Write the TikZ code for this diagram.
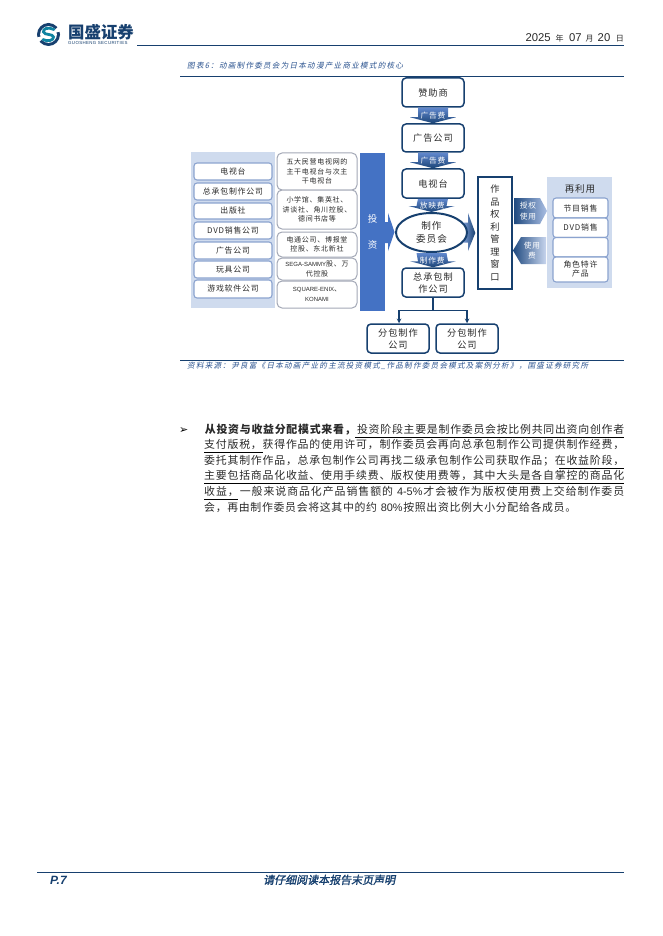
\documentclass[tikz,border=0pt]{standalone}
\usepackage{fontspec}
\usetikzlibrary{calc,shapes.geometric}
\setmainfont{Noto Sans CJK SC}
\newfontfamily\cjkw[LetterSpace=10]{Noto Sans CJK SC}
\newfontfamily\cjki[FakeSlant=0.2,LetterSpace=16]{Noto Sans CJK SC}
\newfontfamily\cjkbi[FakeSlant=0.2,FakeBold=1.5]{Noto Sans CJK SC}
\newfontfamily\lat{Liberation Sans}
\newfontfamily\latw[LetterSpace=8]{Liberation Sans}
\newfontfamily\symb{DejaVu Sans}
\definecolor{navy}{HTML}{17406F}
\definecolor{capblue}{HTML}{2C5490}
\definecolor{paleblue}{HTML}{CFDBEE}
\definecolor{edgeblue}{HTML}{8BA3CF}
\definecolor{edgegray}{HTML}{A3A8B6}
\definecolor{barblue}{HTML}{4472C4}
\definecolor{txt}{HTML}{2A2A2A}
\tikzset{
  x=1pt,y=-1pt,
  mainbox/.style={draw=navy,line width=1.5pt,fill=white,rounded corners=4pt,minimum width=61pt,inner sep=0pt,align=center,font=\fontsize{9.2}{12}\cjkw,text=txt},
  leftbox/.style={draw=edgeblue,line width=1.1pt,fill=white,rounded corners=3pt,inner sep=0pt,align=center,font=\fontsize{7.9}{9}\cjkw,text=txt},
  midbox/.style={draw=edgegray,line width=1pt,fill=white,rounded corners=5pt,inner sep=0pt,align=center,font=\fontsize{7}{9.2}\cjkw,text=txt},
  panel/.style={fill=paleblue,draw=none,inner sep=0pt},
  arrowlabel/.style={inner sep=0pt,align=center,text=white,font=\fontsize{7.7}{10.5}\cjkw},
  bodyl/.style={anchor=base west,inner sep=0pt,font=\fontsize{10.9}{12}\selectfont,text=txt},
  plain/.style={inner sep=0pt,anchor=base west},
  rule/.style={draw=navy,line width=0.9pt},
  uline/.style={draw=black,line width=0.7pt},
  conn/.style={draw=navy,line width=1.1pt},
}
\newcommand{\place}[7]{% style, name, x1,y1,x2,y2, text
  \node[#1,minimum width=#5pt-#3pt,minimum height=#6pt-#4pt] (#2) at ({(#3+#5)/2},{(#4+#6)/2}) {#7};}
\newcommand{\blockdown}[3]{% from, to, label
  \shade[top color=barblue!85,bottom color=navy!90!barblue]
    ($(#1.south)+(-15,0)$) -- ($(#1.south)+(15,0)$) -- ($(#2.north)+(15,-6)$) -- ($(#2.north)+(23,-6)$)
    -- (#2.north) -- ($(#2.north)+(-23,-6)$) -- ($(#2.north)+(-15,-6)$) -- cycle;
  \node[arrowlabel] (lab#1) at ($(#1.south)!0.5!(#2.north)$) {#3};}
\def\spr#1{\ifx#1\relax\else#1\hfil\expandafter\spr\fi}
\newcommand{\spreadto}[2]{\hbox to #1pt{\spr#2\relax\unskip}}
\newcommand{\pctA}{\mbox{\hspace{3pt}\lat 4-5\%}}
\newcommand{\pctB}{\mbox{\hspace{3pt}\lat 80\%}}
\newcommand{\latsm}[1]{{\fontsize{6}{9.2}\lat #1}}
\begin{document}
\begin{tikzpicture}
\useasboundingbox (0,0) rectangle (662,936);
\fill[white] (0,0) rectangle (662,936);

% ---- header
\node[circle,fill=navy,minimum size=23pt,inner sep=0pt] (logo) at (48.5,34.5) {};
\fill[white] (48.5,34.5) circle (8.4pt);
\fill[white] (48.5,34.5) -- (62,24) -- (62,31) -- cycle;
\fill[white] (48.5,34.5) -- (35,45) -- (35,38) -- cycle;
\draw[line width=2.8pt,color=navy!65!cyan,line cap=round] (54,29.5) .. controls (48,26.5) and (42.5,29) .. (43.5,32) .. controls (44.5,35.5) and (53,33.5) .. (53.5,37) .. controls (54,40.5) and (47,42) .. (43,39.5);
\node[plain,font=\fontsize{16.4}{18}\bfseries\selectfont,text=navy] (brand) at (68,38.5) {国盛证券};
\node[plain,font=\fontsize{4.4}{5}\latw,text=navy] (brandsub) at (68,45) {GUOSHENG SECURITIES};
\coordinate (hl) at (137,45.5); \coordinate (hr) at (624,45.5);
\draw[rule] (hl) -- (hr);
\node[inner sep=0pt,anchor=base east,text=txt] (date) at (624,41.5) {\fontsize{11.3}{12}\lat 2025\hspace{5pt}\fontsize{8}{12}\selectfont\rmfamily 年\hspace{5.5pt}\fontsize{11.3}{12}\lat 07\hspace{4pt}\fontsize{8}{12}\rmfamily 月\hspace{4pt}\fontsize{11.3}{12}\lat 20\hspace{5.5pt}\fontsize{8}{12}\rmfamily 日};

% ---- caption
\node[plain,text=capblue,font=\fontsize{7.6}{9}\cjki] (caption) at (187,68.5) {图表6：动画制作委员会为日本动漫产业商业模式的核心};
\coordinate (cl) at (180,76.5); \coordinate (cr) at (624,76.5);
\draw[rule] (cl) -- (cr);

% ---- left panel
\place{panel}{lpanel}{191}{152}{275}{308}{}
\place{leftbox}{l1}{194}{163}{272}{180}{电视台}
\place{leftbox}{l2}{194}{183}{272}{200}{总承包制作公司}
\place{leftbox}{l3}{194}{203}{272}{219}{出版社}
\place{leftbox}{l4}{194}{222}{272}{239}{DVD销售公司}
\place{leftbox}{l5}{194}{242}{272}{259}{广告公司}
\place{leftbox}{l6}{194}{261}{272}{278}{玩具公司}
\place{leftbox}{l7}{194}{280}{272}{298}{游戏软件公司}

% ---- middle column
\place{midbox}{m1}{277}{153}{357}{190}{五大民营电视网的\\主干电视台与次主\\干电视台}
\place{midbox}{m2}{277}{190}{357}{229}{小学馆、集英社、\\讲谈社、角川控股、\\德间书店等}
\place{midbox}{m3}{277}{232}{357}{257}{电通公司、博报堂\\控股、东北新社}
\place{midbox}{m4}{277}{258}{357}{280}{\latsm{SEGA-SAMMY}股、万\\代控股}
\place{midbox}{m5}{277}{281}{357}{308}{\latsm{SQUARE-ENIX}、\\\latsm{KONAMI}}

% ---- invest bar
\node[fill=barblue,minimum width=25pt,minimum height=158pt,inner sep=0pt,text=white,align=center,font=\fontsize{9.5}{26}\selectfont] (bar) at (372.5,232) {投\\资};
\fill[barblue] (385,222) -- (388,222) -- (388,213) -- (394.5,232) -- (388,251) -- (388,243) -- (385,243) -- cycle;

% ---- rights window
\node[draw=navy,line width=1.4pt,fill=white,minimum width=34pt,minimum height=112pt,inner sep=0pt,align=center,text=txt,font=\fontsize{9.2}{12.5}\selectfont] (window) at (495,233) {作\\品\\权\\利\\管\\理\\窗\\口};
\shade[left color=barblue!70,right color=navy]
  (463,222.5) -- (468,222.5) -- (468,213) -- ($(window.west)+(-2,0)$) -- (468,251) -- (468,242.5) -- (463,242.5) -- cycle;

% ---- main chain
\place{mainbox}{sponsor}{402}{78}{464}{107}{赞助商}
\place{mainbox}{adco}{402}{124}{464}{152}{广告公司}
\place{mainbox}{tv}{402}{169}{464}{198}{电视台}
\node[ellipse,draw=navy,line width=2pt,fill=white,minimum width=71pt,minimum height=39pt,inner sep=0pt,align=center,font=\fontsize{9.6}{13}\cjkw,text=txt] (comm) at (431.5,232.5) {制作\\委员会};
\place{mainbox}{contr}{402}{268}{464}{297}{总承包制\\作公司}
\place{mainbox}{sub1}{367}{324}{429}{353}{分包制作\\公司}
\place{mainbox}{sub2}{436}{324}{498}{353}{分包制作\\公司}
\blockdown{sponsor}{adco}{广告费}
\blockdown{adco}{tv}{广告费}
\blockdown{tv}{comm}{放映费}
\blockdown{comm}{contr}{制作费}

\coordinate (split) at ($(contr.south)+(0,13)$);
\coordinate (splitl) at ($(split)+(-34,0)$); \coordinate (splitr) at ($(split)+(34,0)$);
\draw[conn] (contr.south) -- (split);
\draw[conn,-stealth] (split) -- (splitl) -- (splitl |- sub1.north);
\draw[conn,-stealth] (split) -- (splitr) -- (splitr |- sub2.north);

% ---- right panel
\place{panel}{rpanel}{547}{177}{612}{288}{}
\node[inner sep=0pt,font=\fontsize{9.5}{11}\cjkw,text=txt] (reuse) at (580,189) {再利用};
\place{leftbox}{r1}{553}{198}{608}{218}{节目销售}
\place{leftbox}{r2}{553}{218}{608}{237.5}{DVD销售}
\place{leftbox}{r3}{553}{237.5}{608}{257}{}
\place{leftbox}{r4}{553}{257}{608}{282}{角色特许\\产品}

% ---- side arrows
\shade[left color=navy!80!barblue,right color=barblue!45]
  (514,198) -- (540,198) -- (547,211) -- (540,224) -- (514,224) -- cycle;
\node[arrowlabel,text=white] (grant) at (528,211) {授权\\使用};
\shade[left color=navy!80!barblue,right color=barblue!30]
  (546,237) -- (521,237) -- (513,250.5) -- (521,264) -- (546,264) -- cycle;
\node[arrowlabel,text=white] (fee) at (532,250.5) {使用\\费};

% ---- source
\coordinate (sl) at (180,360); \coordinate (sr) at (624,360);
\draw[rule] (sl) -- (sr);
\node[plain,text=capblue,font=\fontsize{7.6}{9}\cjki] (source) at (187,368) {资料来源：尹良富《日本动画产业的主流投资模式\_作品制作委员会模式及案例分析》，国盛证券研究所};

% ---- body
\node[plain,font=\fontsize{11}{12}\symb,text=black] (bullet) at (179,433) {➢};
\node[bodyl] (b1) at (204,433) {\spreadto{420}{\bfseries 从投资与收益分配模式来看，\mdseries 投资阶段主要是制作委员会按比例共同出资向创作者}};
\node[bodyl] (b2) at (204,448.5) {\spreadto{420}{支付版税，获得作品的使用许可，制作委员会再向总承包制作公司提供制作经费，}};
\node[bodyl] (b3) at (204,464) {\spreadto{420}{委托其制作作品，总承包制作公司再找二级承包制作公司获取作品；在收益阶段，}};
\node[bodyl] (b4) at (204,479.5) {\spreadto{420}{主要包括商品化收益、使用手续费、版权使用费等，其中大头是各自掌控的商品化}};
\node[bodyl] (b5) at (204,495.5) {\spreadto{420}{收益，一般来说商品化产品销售额的\pctA 才会被作为版权使用费上交给制作委员}};
\node[bodyl] (b6) at (204,511.5) {\spreadto{372}{会，再由制作委员会将这其中的约\pctB 按照出资比例大小分配给各成员。}};
\draw[uline] (355,437) -- (624,437);
\draw[uline] (204,452.5) -- (263,452.5);
\draw[uline] (559,468) -- (624,468);
\draw[uline] (204,483.5) -- (624,483.5);
\draw[uline] (204,499) -- (238,499);

% ---- footer
\coordinate (fl) at (37,872.5); \coordinate (fr) at (624,872.5);
\draw[rule] (fl) -- (fr);
\node[plain,text=navy,font=\fontsize{12}{12}\lat\bfseries\itshape] (page) at (50,884) {P.7};
\node[plain,text=navy,font=\fontsize{11}{12}\cjkbi] (notice) at (263,884) {请仔细阅读本报告末页声明};
\end{tikzpicture}
\end{document}
